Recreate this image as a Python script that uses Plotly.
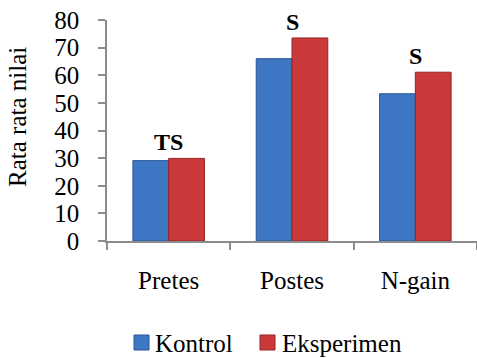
import plotly.graph_objects as go

categories = ["Pretes", "Postes", "N-gain"]
kontrol = [29.1, 66.0, 53.3]
eksperimen = [29.9, 73.5, 61.1]
signif = ["TS", "S", "S"]
y_ticks = [0, 10, 20, 30, 40, 50, 60, 70, 80]

series_names = ["Kontrol", "Eksperimen"]
fill_colors = ["#3d77c3", "#cb3a3a"]
edge_colors = ["#2a5796", "#922424"]

font_family = "Liberation Serif, Times New Roman, serif"

W, H = 477, 358
M_L, M_R, M_T, M_B = 107, 0, 20, 117
plot_w = W - M_L - M_R
plot_h = H - M_T - M_B


def px_x(p):
    return (p - M_L) / plot_w


def px_y(q):
    return (H - M_B - q) / plot_h


fig = go.Figure()
for name, vals, fc, ec in zip(series_names, [kontrol, eksperimen], fill_colors, edge_colors):
    fig.add_trace(go.Bar(
        name=name, x=categories, y=vals, showlegend=False,
        marker=dict(color=fc, line=dict(color=ec, width=1)),
    ))

# significance labels above each pair
for cat, k, e, lab in zip(categories, kontrol, eksperimen, signif):
    fig.add_annotation(
        x=cat, y=max(k, e), text=f"<b>{lab}</b>", showarrow=False,
        yanchor="bottom", yshift=1,
        font=dict(family=font_family, size=24, color="black"),
    )

# legend drawn below the plot: square swatch followed by its label
legend_items = [(134, 153), (260, 280)]
for (sq_x, tx_x), name, fc, ec in zip(legend_items, series_names, fill_colors, edge_colors):
    fig.add_shape(
        type="rect", xref="paper", yref="paper",
        x0=px_x(sq_x), x1=px_x(sq_x + 15), y0=px_y(350), y1=px_y(335),
        fillcolor=fc, line=dict(color=ec, width=1),
    )
    fig.add_annotation(
        xref="paper", yref="paper", x=px_x(tx_x), y=px_y(343),
        xanchor="left", yanchor="middle", text=name, showarrow=False,
        font=dict(family=font_family, size=25, color="black"),
    )

# vertical axis title
fig.add_annotation(
    xref="paper", yref="paper", x=px_x(17), y=px_y(117),
    xanchor="center", yanchor="middle", textangle=-90,
    text="Rata rata nilai", showarrow=False,
    font=dict(family=font_family, size=25, color="black"),
)

fig.update_layout(
    width=W, height=H,
    margin=dict(l=M_L, r=M_R, t=M_T, b=M_B),
    paper_bgcolor="white", plot_bgcolor="white",
    barmode="group", bargap=0.42, bargroupgap=0,
    font=dict(family=font_family, size=25, color="black"),
    showlegend=False,
    xaxis=dict(
        showline=True, linecolor="#8c8c8c", linewidth=1.5,
        ticks="outside", tickson="boundaries", ticklen=7, tickcolor="#8c8c8c",
        tickwidth=1.5, ticklabelstandoff=16, tickfont=dict(size=25),
        showgrid=False,
    ),
    yaxis=dict(
        range=[0, 80], tickvals=y_ticks, showline=True, linecolor="#8c8c8c",
        linewidth=1.5, ticks="outside", ticklen=7, tickcolor="#8c8c8c",
        tickwidth=1.5, ticklabelstandoff=14,
        showgrid=False, zeroline=False, tickfont=dict(size=25),
    ),
)

fig.write_html("out.html")
